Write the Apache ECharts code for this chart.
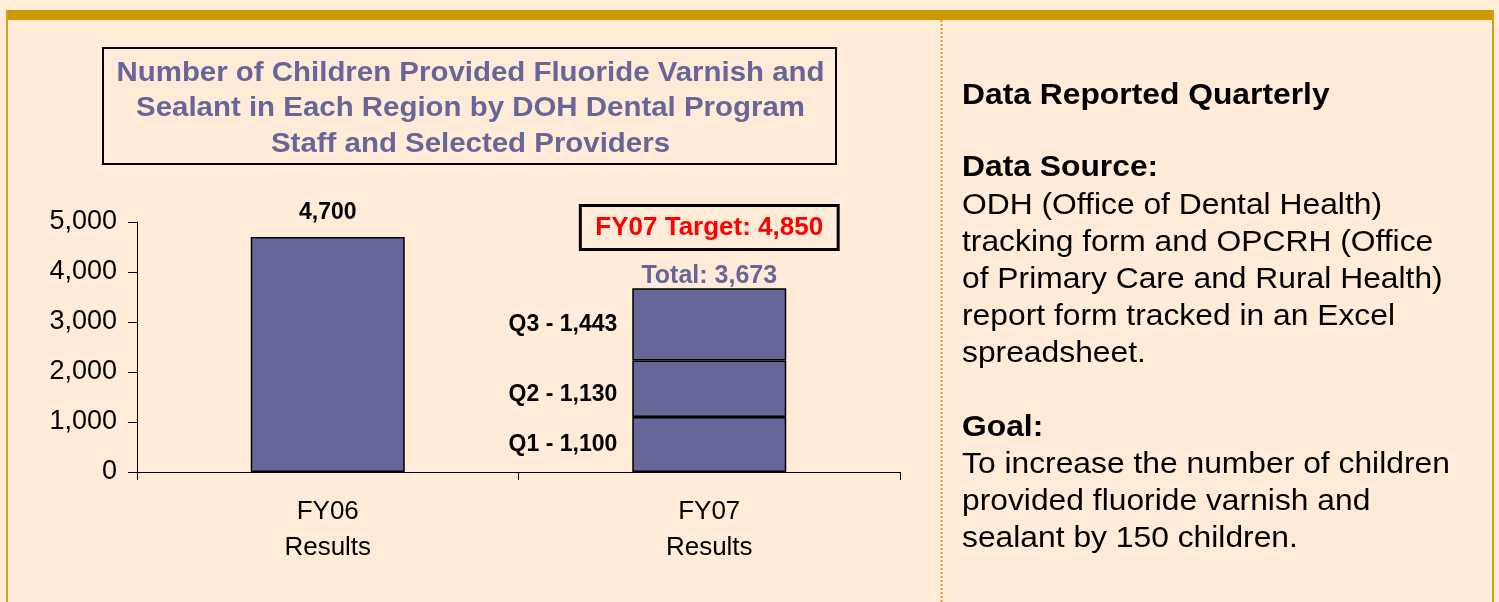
<!DOCTYPE html>
<html>
<head>
<meta charset="utf-8">
<script src="https://cdn.jsdelivr.net/npm/echarts@6/dist/echarts.min.js"></script>
<style>
html,body{margin:0;padding:0;background:#FFEBD7;}
#c{width:1499px;height:602px;}
</style>
</head>
<body>
<div id="c"></div>
<script>
const categories = ['FY06\nResults', 'FY07\nResults'];
const fy06Values = [4700, '-'];
const q1Values = ['-', 1100];
const q2Values = ['-', 1130];
const q3Values = ['-', 1443];
const quarterNames = ['Q1', 'Q2', 'Q3'];
const fy07Total = 3673;
const fy07Target = 4850;
const yMin = 0, yMax = 5000, yStep = 1000;

const FONT = '"Liberation Sans", Arial, sans-serif';
const BAR = '#666699';
const fmt = v => Number(v).toLocaleString('en-US');

const chart = echarts.init(document.getElementById('c'), null, {renderer: 'canvas'});

function quarterSeries(name, data, offset) {
  return {
    name: name, type: 'bar', stack: 'fy', data: data, barWidth: 154,
    itemStyle: {color: BAR, borderColor: '#000', borderWidth: 1.5},
    label: {
      show: true, position: 'left', distance: 15, offset: offset,
      formatter: p => name + ' - ' + fmt(p.value),
      fontFamily: FONT, fontWeight: 'bold', fontSize: 23, color: '#000'
    }
  };
}

const q3 = quarterSeries(quarterNames[2], q3Values, [0, 0]);
q3.markPoint = {
  symbol: 'rect', symbolSize: 0, silent: true,
  data: [
    {coord: [1, fy07Total], value: fy07Total,
     label: {show: true, position: 'top', distance: 0, formatter: 'Total: ' + fmt(fy07Total),
             fontFamily: FONT, fontWeight: 'bold', fontSize: 25, color: BAR}},
    {coord: [1, fy07Target], value: fy07Target,
     label: {show: true, position: 'inside', offset: [0, -2], formatter: 'FY07 Target: ' + fmt(fy07Target),
             fontFamily: FONT, fontWeight: 'bold', fontSize: 26, color: '#FF0000',
             borderColor: '#000', borderWidth: 1.5, padding: [9, 15, 9, 15], backgroundColor: 'transparent'}}
  ]
};

const SX = 1.06;
const option = {
  backgroundColor: '#FFEBD7',
  animation: false,
  grid: {left: 137, top: 222, right: 599, bottom: 130, containLabel: false},
  xAxis: {
    type: 'category', data: categories, boundaryGap: true,
    axisLine: {show: true, lineStyle: {color: '#000', width: 1}},
    axisTick: {show: true, length: 8, lineStyle: {color: '#000'}},
    axisLabel: {fontFamily: FONT, fontSize: 26, color: '#000', lineHeight: 36, margin: 22}
  },
  yAxis: {
    type: 'value', min: yMin, max: yMax, interval: yStep,
    axisLine: {show: true, lineStyle: {color: '#000', width: 1}},
    axisTick: {show: true, length: 9, lineStyle: {color: '#000'}},
    splitLine: {show: false},
    axisLabel: {fontFamily: FONT, fontSize: 27, color: '#000', margin: 20, formatter: v => fmt(v)}
  },
  series: [
    {
      name: 'FY06', type: 'bar', stack: 'fy', data: fy06Values, barWidth: 154,
      itemStyle: {color: BAR, borderColor: '#000', borderWidth: 1.5},
      label: {show: true, position: 'top', distance: 13, formatter: p => fmt(p.value),
              fontFamily: FONT, fontWeight: 'bold', fontSize: 23, color: '#000'}
    },
    quarterSeries(quarterNames[0], q1Values, [0, 0]),
    quarterSeries(quarterNames[1], q2Values, [0, 6]),
    q3
  ],
  graphic: [
    {type: 'rect', shape: {x: 6, y: 10, width: 1488, height: 10}, style: {fill: '#CC9900'}, silent: true},
    {type: 'rect', shape: {x: 6, y: 10, width: 2, height: 592}, style: {fill: '#D4A017'}, silent: true},
    {type: 'rect', shape: {x: 1492, y: 10, width: 2, height: 592}, style: {fill: '#D4A017'}, silent: true},
    {type: 'line', shape: {x1: 941.5, y1: 20, x2: 941.5, y2: 602},
     style: {stroke: '#DDA020', lineWidth: 2, lineDash: [2, 2]}, silent: true},
    {type: 'rect', shape: {x: 103, y: 48, width: 733, height: 116},
     style: {fill: 'none', stroke: '#000', lineWidth: 2}, silent: true},
    {type: 'text', x: 470.5, y: 109, scaleX: 1.09, silent: true,
     style: {text: 'Number of Children Provided Fluoride Varnish and\nSealant in Each Region by DOH Dental Program\nStaff and Selected Providers',
             fill: BAR, font: 'bold 27px ' + FONT, textAlign: 'center', textVerticalAlign: 'middle', lineHeight: 35.5}},
    {type: 'text', x: 962, y: 96, scaleX: SX, silent: true,
     style: {text: 'Data Reported Quarterly', fill: '#000', font: 'bold 30px ' + FONT, textAlign: 'left', textVerticalAlign: 'middle'}},
    {type: 'text', x: 962, y: 168, scaleX: SX, silent: true,
     style: {text: 'Data Source:', fill: '#000', font: 'bold 30px ' + FONT, textAlign: 'left', textVerticalAlign: 'middle'}},
    {type: 'text', x: 962, y: 187, scaleX: SX, silent: true,
     style: {text: 'ODH (Office of Dental Health)\ntracking form and OPCRH (Office\nof Primary Care and Rural Health)\nreport form tracked in an Excel\nspreadsheet.',
             fill: '#000', font: '30px ' + FONT, textAlign: 'left', textVerticalAlign: 'top', lineHeight: 37}},
    {type: 'text', x: 962, y: 428, scaleX: SX, silent: true,
     style: {text: 'Goal:', fill: '#000', font: 'bold 30px ' + FONT, textAlign: 'left', textVerticalAlign: 'middle'}},
    {type: 'text', x: 962, y: 446, scaleX: SX, silent: true,
     style: {text: 'To increase the number of children\nprovided fluoride varnish and\nsealant by 150 children.',
             fill: '#000', font: '30px ' + FONT, textAlign: 'left', textVerticalAlign: 'top', lineHeight: 37}}
  ]
};
chart.setOption(option);
</script>
</body>
</html>
